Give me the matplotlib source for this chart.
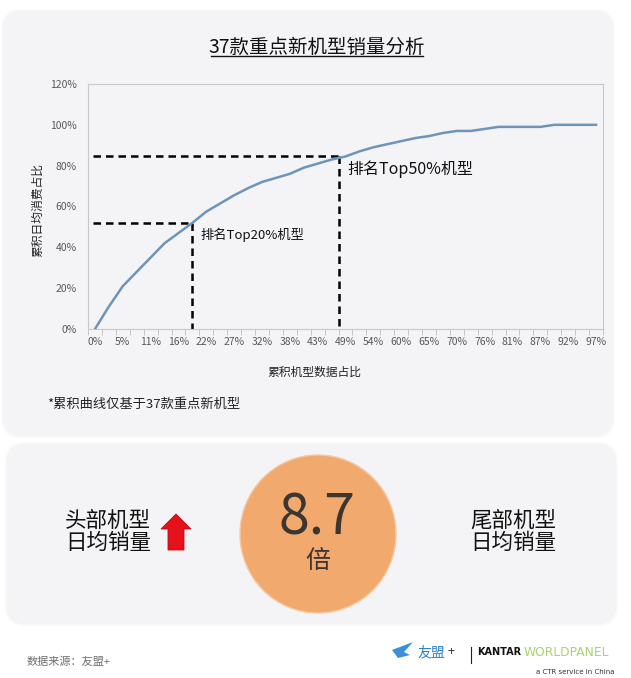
import matplotlib
matplotlib.use("Agg")
import matplotlib.pyplot as plt
from matplotlib.patches import FancyBboxPatch, Ellipse, Polygon
import numpy as np

plt.rcParams['font.family'] = ['Noto Sans CJK SC', 'DejaVu Sans']

# cumulative share of daily sales, one point per model (37 models)
cum_share = [0, 11, 21, 28, 35, 42, 47, 52, 57.5, 61.5, 65.5, 69, 72, 74, 76, 79, 81, 83,
             84.5, 87, 89, 90.5, 92, 93.5, 94.5, 96, 97, 97, 98, 99, 99, 99, 99, 100, 100, 100, 100]
x_labels = ['0%', '5%', '11%', '16%', '22%', '27%', '32%', '38%', '43%', '49%',
            '54%', '60%', '65%', '70%', '76%', '81%', '87%', '92%', '97%']
y_ticks = [0, 20, 40, 60, 80, 100, 120]

# the two guide lines (category position, cumulative share)
guide_x = [7, 17.5]
guide_y = [52, 84.5]
guide_text = ['排名Top20%机型', '排名Top50%机型']

ratio_text = '8.7'

W, H = 631, 678
fig = plt.figure(figsize=(W / 100, H / 100), dpi=100)
fig.patch.set_facecolor('white')

# background layer in pixel coordinates
bg = fig.add_axes([0, 0, 1, 1], zorder=0)
bg.set_xlim(0, W)
bg.set_ylim(H, 0)
bg.axis('off')

panel_col = '#f4f4f6'
for (x0, y0, x1, y1) in [(4, 12, 612, 435), (8, 445, 615, 623)]:
    # soft shadow
    for k, a in [(3, 0.25), (1.5, 0.4)]:
        bg.add_patch(FancyBboxPatch((x0 - k, y0 - k), x1 - x0 + 2 * k, y1 - y0 + 2 * k,
                                    boxstyle="round,pad=0,rounding_size=20",
                                    fc='#ececef', ec='none', alpha=a))
    bg.add_patch(FancyBboxPatch((x0, y0), x1 - x0, y1 - y0,
                                boxstyle="round,pad=0,rounding_size=18",
                                fc=panel_col, ec='none'))

# title with underline
bg.text(317, 47, '37款重点新机型销量分析', fontsize=14, ha='center', va='center', color='#111111')
bg.plot([211, 423], [56, 56], color='#111111', lw=1)

# axis titles and note
bg.text(38, 210, '累积日均消费占比', rotation=90, fontsize=8.5, ha='center', va='center', color='#222222')
bg.text(314, 372, '累积机型数据占比', fontsize=8.5, ha='center', va='center', color='#222222')
bg.text(47, 404, '*累积曲线仅基于37款重点新机型', fontsize=9.5, ha='left', va='center', color='#222222')

# lower panel: ratio circle
bg.add_patch(Ellipse((318, 534), 156, 158, fc='#f1a96e', ec='#f6c9a2', lw=1))
bg.text(317, 519, ratio_text, fontsize=40, ha='center', va='center', color='#3d3530',
        fontweight='light')
bg.text(318, 562, '倍', fontsize=18, ha='center', va='center', color='#3d3530')

bg.text(108, 532, '头部机型\n日均销量', fontsize=15.5, ha='center', va='center',
        color='#111111', linespacing=1.0)
bg.text(513, 532, '尾部机型\n日均销量', fontsize=15.5, ha='center', va='center',
        color='#111111', linespacing=1.0)

# red up arrow
bg.add_patch(Polygon([(168, 550), (184, 550), (184, 529), (191, 529), (176, 514),
                      (161, 529), (168, 529)], closed=True, fc='#e5121b', ec='#b50d14', lw=0.6))

# footer
bg.text(27, 662, '数据来源：友盟+', fontsize=8, ha='left', va='center', color='#6f6f6f')
bg.add_patch(Polygon([(392, 650), (413, 642), (404, 652), (410, 655), (398, 658)],
                     closed=True, fc='#3d8fd6', ec='none'))
bg.text(417, 652, '友盟', fontsize=10, ha='left', va='center', color='#2f7fc8')
bg.text(448, 652, '+', fontsize=9, ha='left', va='center', color='#333333')
bg.plot([471, 471], [647, 663], color='#222222', lw=0.8)
bg.text(477, 652, 'KANTAR', fontsize=7, ha='left', va='center', color='#111111',
        fontweight='bold', family='DejaVu Sans')
bg.text(524, 652, 'WORLDPANEL', fontsize=8.8, ha='left', va='center', color='#a8d36e',
        family='DejaVu Sans')
bg.text(615, 672, 'a CTR service in China', fontsize=5, ha='right', va='center', color='#333333',
        family='DejaVu Sans')

# chart
left, right = 88 / W, 603 / W
bottom, top = 1 - 329 / H, 1 - 84 / H
ax = fig.add_axes([left, bottom, right - left, top - bottom], zorder=1)
ax.set_facecolor('none')

xs = np.arange(len(cum_share))
ax.plot(xs, cum_share, color='#6e95b9', lw=1.8, zorder=3)

for gx, gy in zip(guide_x, guide_y):
    ax.plot([-0.15, gx], [gy, gy], color='black', lw=1.8, ls=(0, (3, 2)), zorder=2)
    ax.plot([gx, gx], [gy, 0], color='black', lw=1.8, ls=(0, (3, 2)), zorder=2)

ax.text(guide_x[0] + 0.6, 46, guide_text[0], fontsize=9.5, ha='left', va='center', color='#111111')
ax.text(guide_x[1] + 0.6, 78.5, guide_text[1], fontsize=11.5, ha='left', va='center', color='#111111')

ax.set_xlim(-0.5, len(cum_share) - 0.5)
ax.set_ylim(0, 120)
ax.set_yticks(y_ticks)
ax.set_yticklabels([f'{v}%' for v in y_ticks])
ax.set_xticks(xs[::2])
ax.set_xticklabels(x_labels)
ax.set_xticks(np.arange(-0.5, len(cum_share), 1), minor=True)
ax.tick_params(axis='x', which='major', length=0, pad=6, labelsize=7.5, labelcolor='#595959')
ax.tick_params(axis='x', which='minor', length=4, direction='out', color='#bfbfbf')
ax.tick_params(axis='y', length=0, pad=8, labelsize=7.5, labelcolor='#595959')
for s in ax.spines.values():
    s.set_color('#c8c8c8')
    s.set_linewidth(0.8)

fig.savefig('out.png', dpi=100, facecolor='white')
